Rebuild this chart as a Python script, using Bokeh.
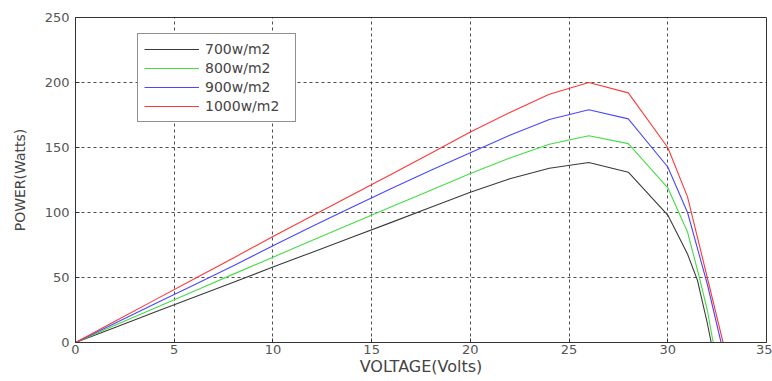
from bokeh.plotting import figure
from bokeh.models import Range1d, FixedTicker, Legend, LegendItem
from bokeh.embed import file_html
from bokeh.resources import INLINE

# Data
v700 = [0, 2, 4, 6, 8, 10, 12, 14, 16, 18, 20, 22, 24, 26, 28, 30, 31, 31.5, 32, 32.2]
p700 = [0, 11.6, 23.2, 34.8, 46.4, 58, 69.5, 81, 92.4, 104, 115.5, 126, 134, 138.5, 131, 98, 68, 48, 15, 0]
v800 = [0, 2, 4, 6, 8, 10, 12, 14, 16, 18, 20, 22, 24, 26, 28, 30, 31, 31.6, 32, 32.3]
p800 = [0, 13.2, 26.4, 39.5, 52.6, 65.6, 78.6, 91.5, 104.4, 117.2, 130, 142, 152.5, 159, 153, 119, 85, 50, 25, 0]
v900 = [0, 2, 4, 6, 8, 10, 12, 14, 16, 18, 20, 22, 24, 26, 28, 30, 31, 32, 32.7]
p900 = [0, 14.8, 29.6, 44.3, 59, 74.5, 89.5, 104, 118.5, 132.5, 146, 159.5, 171.5, 179, 172, 135, 100, 45, 0]
v1000 = [0, 2, 4, 6, 8, 10, 12, 14, 16, 18, 20, 22, 24, 26, 28, 30, 31, 32, 32.8]
p1000 = [0, 16.3, 32.6, 48.8, 65, 81.5, 97.5, 113.5, 129.5, 145.5, 162, 177, 191, 200, 192, 150, 112, 50, 0]

labels = ["700w/m2", "800w/m2", "900w/m2", "1000w/m2"]
colors = ["#3a3a3a", "#44dd44", "#4848ff", "#ff3838"]
x_ticks = [0, 5, 10, 15, 20, 25, 30, 35]
y_ticks = [0, 50, 100, 150, 200, 250]

p = figure(width=772, height=381, output_backend="svg", toolbar_location=None,
           x_range=Range1d(0, 35), y_range=Range1d(0, 250),
           min_border_left=75, min_border_right=6, min_border_top=17, min_border_bottom=39)
p.background_fill_color = "white"
p.border_fill_color = "white"
p.outline_line_color = "#333333"
p.outline_line_width = 1

font = "DejaVu Sans"
for ax in (p.xaxis[0], p.yaxis[0]):
    ax.axis_line_color = "#333333"
    ax.major_tick_in = 4
    ax.major_tick_out = 0
    ax.minor_tick_line_color = None
    ax.major_tick_line_color = "#333333"
    ax.major_label_text_font = font
    ax.major_label_text_font_size = "13px"
    ax.major_label_text_color = "#555555"
    ax.axis_label_text_font = font
    ax.axis_label_text_font_style = "normal"
    ax.axis_label_text_color = "#444444"

p.xaxis.ticker = FixedTicker(ticks=x_ticks)
p.yaxis.ticker = FixedTicker(ticks=y_ticks)
p.xaxis.axis_label = "VOLTAGE(Volts)"
p.yaxis.axis_label = "POWER(Watts)"
p.xaxis.axis_label_text_font_size = "16px"
p.yaxis.axis_label_text_font_size = "14px"
p.xaxis.major_label_standoff = 2
p.xaxis.axis_label_standoff = 0
p.yaxis.major_label_standoff = 6
p.yaxis.axis_label_standoff = 14

for g in (p.xgrid[0], p.ygrid[0]):
    g.grid_line_color = "#222222"
    g.grid_line_dash = "3 3"
    g.grid_line_width = 1
    g.grid_line_alpha = 0.8

items = []
for vx, py, lab, col in zip([v700, v800, v900, v1000], [p700, p800, p900, p1000], labels, colors):
    r = p.line(vx, py, line_color=col, line_width=1.1)
    items.append(LegendItem(label=lab, renderers=[r]))

legend = Legend(items=items, location=(62, 220))
legend.label_text_font = font
legend.label_text_font_size = "14px"
legend.label_text_color = "#444444"
legend.glyph_width = 55
legend.glyph_height = 18
legend.label_height = 18
legend.label_width = 84
legend.label_standoff = 6
legend.spacing = 1
legend.padding = 6
legend.margin = 0
legend.border_line_color = "#222222"
legend.border_line_width = 1
legend.background_fill_color = "white"
legend.background_fill_alpha = 1
p.add_layout(legend, "center")

open("out.html", "w").write(file_html(p, INLINE))
